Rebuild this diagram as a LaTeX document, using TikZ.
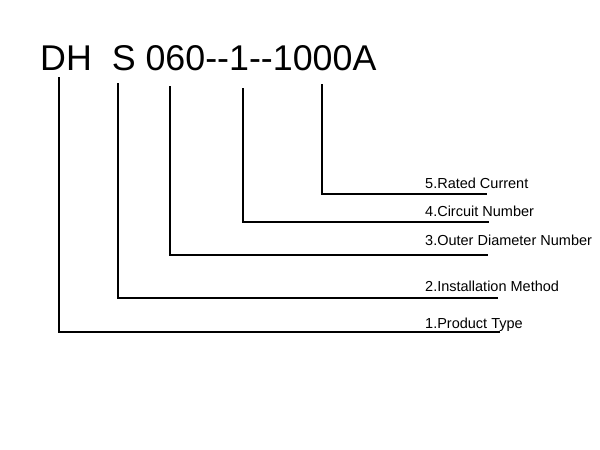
\documentclass[tikz,border=0pt]{standalone}
\usepackage{fontspec}
\newfontfamily\arial{Liberation Sans}
\begin{document}
\begin{tikzpicture}[x=1pt,y=-1pt]

  \useasboundingbox (0,0) rectangle (600,450);

  \begin{scope}   % oznaceni typu

    \node[anchor=base west,inner sep=0pt]
         (kod) at (40,70)
         {\arial\fontsize{35.8}{40}\selectfont DH\ \ S 060-{}-1-{}-1000A};

    \def\Ly{77};
    \coordinate (T1) at (59,\Ly);
    \coordinate (T2) at (118,\Ly+6);
    \coordinate (T3) at (170,\Ly+9);
    \coordinate (T4) at (243,\Ly+11);
    \coordinate (T5) at (322,\Ly+7);

    \coordinate (E1) at (500,332);
    \coordinate (E2) at (498,298);
    \coordinate (E3) at (488,255);
    \coordinate (E4) at (489,222);
    \coordinate (E5) at (487,194);

    \draw[line width=1.7] (T1) |- (E1);
    \draw[line width=1.7] (T2) |- (E2);
    \draw[line width=1.7] (T3) |- (E3);
    \draw[line width=1.7] (T4) |- (E4);
    \draw[line width=1.7] (T5) |- (E5);

    \def\Lx{425};
    \node[anchor=base west,inner sep=0pt] (proud) at (\Lx,188)
         {\arial\fontsize{14.5}{16}\selectfont 5.Rated Current};
    \node[anchor=base west,inner sep=0pt] (okruh) at (\Lx,216.5)
         {\arial\fontsize{14.5}{16}\selectfont 4.Circuit Number};
    \node[anchor=base west,inner sep=0pt] (prumer) at (\Lx,245)
         {\arial\fontsize{14.5}{16}\selectfont 3.Outer Diameter Number};
    \node[anchor=base west,inner sep=0pt] (montaz) at (\Lx,291.5)
         {\arial\fontsize{14.5}{16}\selectfont 2.Installation Method};
    \node[anchor=base west,inner sep=0pt] (typ) at (\Lx,328)
         {\arial\fontsize{14.5}{16}\selectfont 1.Product Type};

  \end{scope}

\end{tikzpicture}
\end{document}
